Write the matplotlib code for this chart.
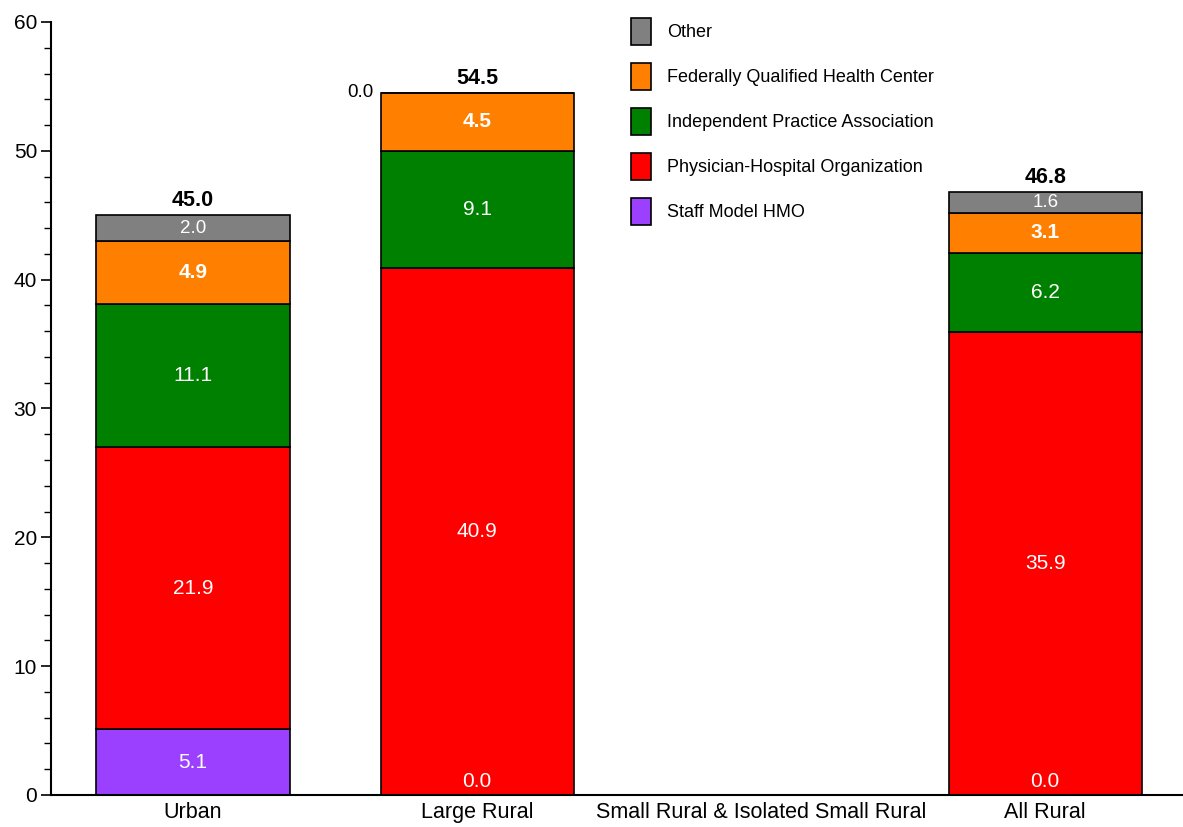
import matplotlib.pyplot as plt
import numpy as np
from matplotlib.ticker import MultipleLocator

plt.rcParams["font.family"] = ["Liberation Sans", "DejaVu Sans"]

categories = ["Urban", "Large Rural", "Small Rural & Isolated Small Rural", "All Rural"]
series = [
    "Staff Model HMO",
    "Physician-Hospital Organization",
    "Independent Practice Association",
    "Federally Qualified Health Center",
    "Other",
]
colors = ["#9B40FF", "#FF0000", "#008000", "#FF8000", "#808080"]

# values per series, one per category (None = no bar)
staff_hmo = [5.1, 0.0, None, 0.0]
pho = [21.9, 40.9, None, 35.9]
ipa = [11.1, 9.1, None, 6.2]
fqhc = [4.9, 4.5, None, 3.1]
other = [2.0, 0.0, None, 1.6]
totals = [45.0, 54.5, None, 46.8]

values = [staff_hmo, pho, ipa, fqhc, other]

fig = plt.figure(figsize=(11.83, 8.27), dpi=100)
ax = fig.add_axes([0.0431, 0.0387, 0.9569, 0.9347])

x = np.arange(len(categories))
width = 0.68
bottom = np.zeros(len(categories))

for s, (name, vals, color) in enumerate(zip(series, values, colors)):
    v = np.array([np.nan if val is None else val for val in vals], dtype=float)
    h = np.nan_to_num(v)
    ax.bar(x, h, width, bottom=bottom, color=color, edgecolor="black",
           linewidth=1.2, label=name)
    for i in range(len(categories)):
        if np.isnan(v[i]):
            continue
        txt = f"{v[i]:.1f}"
        if v[i] == 0:
            if name == "Other":
                ax.text(x[i] - width / 2 - 0.025, bottom[i], txt, ha="right",
                        va="center", fontsize=13.5, color="black")
            else:
                ax.text(x[i], bottom[i] + 0.3, txt, ha="center", va="bottom",
                        fontsize=15, color="white")
            continue
        yc = bottom[i] + v[i] / 2
        if name == "Other":
            ax.text(x[i], yc, txt, ha="center", va="center", fontsize=13.5,
                    color="white")
        elif name == "Federally Qualified Health Center":
            ax.text(x[i], yc, txt, ha="center", va="center", fontsize=15,
                    color="white", fontweight="bold")
        else:
            ax.text(x[i], yc, txt, ha="center", va="center", fontsize=15,
                    color="white")
    bottom = bottom + h

for i, t in enumerate(totals):
    if t is None:
        continue
    ax.annotate(f"{t:.1f}", (x[i], t), xytext=(0, 3), textcoords="offset points",
                ha="center", va="bottom", fontsize=15.5, fontweight="bold")

ax.set_xlim(-0.5, 3.485)
ax.set_ylim(0, 60)
ax.set_xticks(x)
ax.set_xticklabels(categories, fontsize=15.5)
ax.tick_params(axis="x", length=0, pad=5)
ax.yaxis.set_major_locator(MultipleLocator(10))
ax.yaxis.set_minor_locator(MultipleLocator(2))
ax.tick_params(axis="y", which="major", length=7, width=1.2, labelsize=15, pad=3)
ax.tick_params(axis="y", which="minor", length=5, width=1.0)
for side in ["top", "right"]:
    ax.spines[side].set_visible(False)
for side in ["left", "bottom"]:
    ax.spines[side].set_linewidth(1.5)

handles, labels = ax.get_legend_handles_labels()
ax.legend(handles[::-1], labels[::-1], loc="upper left",
          bbox_to_anchor=(0.498, 1.026), frameon=False, fontsize=13,
          handlelength=1.11, handleheight=1.92, labelspacing=1.0,
          handletextpad=0.89)

fig.savefig("out.png", dpi=100)
